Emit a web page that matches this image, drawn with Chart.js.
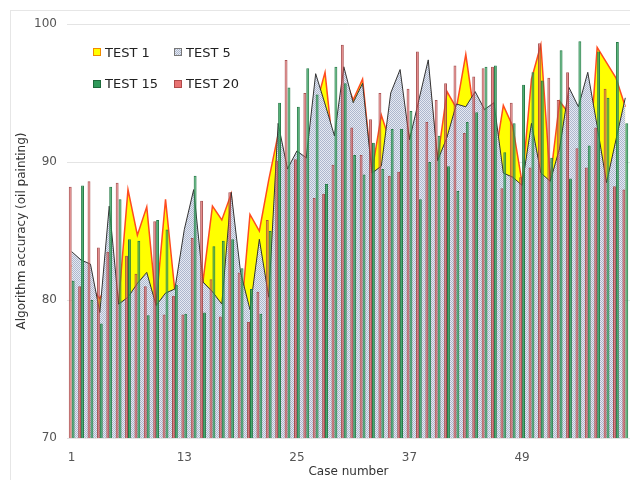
<!DOCTYPE html>
<html><head><meta charset="utf-8">
<script src="https://cdn.jsdelivr.net/npm/chart.js@4"></script>
<style>
html,body{margin:0;padding:0;background:#fff;}
#wrap{position:relative;width:630px;height:480px;overflow:hidden;}
#frame{position:absolute;left:10px;top:10px;width:700px;height:600px;border:1px solid #e6e6e6;}
canvas{position:absolute;left:0;top:0;}
.lg{position:absolute;height:16px;display:flex;align-items:center;font:13px "DejaVu Sans",sans-serif;color:#222;white-space:nowrap;}
.lg i{display:inline-block;width:8px;height:8px;box-sizing:border-box;border:1px solid #888;margin-right:4px;}
</style></head>
<body>
<div id="wrap"><div id="frame"></div><canvas id="c" width="630" height="480"></canvas></div>
<script>
const categories = [1,2,3,4,5,6,7,8,9,10,11,12,13,14,15,16,17,18,19,20,21,22,23,24,25,26,27,28,29,30,
  31,32,33,34,35,36,37,38,39,40,41,42,43,44,45,46,47,48,49,50,51,52,53,54,55,56,57,58,59,60];
const seriesNames = ['TEST 1','TEST 5','TEST 15','TEST 20'];
const xTickLabels = ['1','13','25','37','49'];
const yTicks = [70,80,90,100];

const test1 = [82.5,82.0,81.0,80.1,81.5,79.8,88.0,84.7,86.75,79.7,
  87.3,80.6,83.5,84.0,81.4,86.8,85.8,87.7,78.5,86.2,
  85.0,88.7,92.0,88.5,90.0,89.5,94.0,96.5,90.0,96.3,
  94.5,96.0,89.3,93.4,91.3,95.5,91.7,93.5,96.5,90.2,
  95.1,93.9,97.8,93.0,92.5,89.8,94.1,92.6,88.5,96.0,
  98.5,88.7,94.4,93.5,92.0,88.5,98.3,97.2,96.1,94.0];
const test5 = [83.5,82.9,82.6,79.1,86.8,79.7,80.2,81.2,82.0,79.6,
  80.5,80.8,85.1,88.0,81.3,80.6,79.7,87.8,82.0,79.3,
  84.4,80.2,92.8,89.5,90.8,90.3,96.4,94.2,91.9,96.9,
  94.3,95.7,89.2,89.7,95.0,96.7,91.6,94.5,97.4,90.1,
  91.8,94.2,94.0,95.1,93.8,94.3,89.2,88.9,88.3,92.8,
  89.2,88.6,91.0,95.4,94.0,96.5,92.6,88.5,91.6,94.65];
const test15 = [81.4,88.3,80.0,78.3,88.2,87.3,84.4,84.3,78.9,85.8,
  85.1,81.1,79.0,89.0,79.1,83.9,84.3,84.4,82.3,80.8,
  79.0,85.0,94.3,95.4,94.0,96.8,94.9,88.4,96.9,95.7,
  90.5,89.1,91.4,89.5,92.4,92.4,93.7,87.3,90.0,91.9,
  89.7,87.9,92.9,93.6,96.9,97.0,90.7,92.8,95.6,96.5,
  95.9,90.3,98.1,88.8,98.75,91.2,98.0,94.65,98.7,92.8];
const test20 = [88.2,81.0,88.6,83.8,83.5,88.5,83.2,81.9,81.0,85.7,
  78.95,80.3,78.95,84.5,87.2,81.5,78.8,87.8,82.0,78.4,
  80.6,85.8,90.1,97.4,90.2,95.0,87.4,87.7,89.8,98.5,
  92.5,90.5,93.1,95.0,89.0,89.3,95.3,98.0,92.9,94.5,
  95.7,97.0,92.1,96.2,96.8,96.9,88.1,94.3,88.9,89.6,
  98.6,96.1,94.5,96.5,91.0,89.6,92.5,95.3,88.25,88.0];

function makePatternCanvas(){
  const c=document.createElement('canvas'); c.width=2; c.height=2;
  const g=c.getContext('2d');
  g.fillStyle='#e5e9f2'; g.fillRect(0,0,2,2);
  g.fillStyle='#adb7cd'; g.fillRect(0,0,1,1); g.fillRect(1,1,1,1);
  return c;
}
const patCanvas = makePatternCanvas();
const ctx = document.getElementById('c').getContext('2d');
const bluePattern = ctx.createPattern(patCanvas,'repeat');

const legendStyles = [
  'background:#ffff00;border-color:#f08a00',
  'background:url('+patCanvas.toDataURL()+');border-color:#777',
  'background:#2f9a5a;border-color:#1d6a3b',
  'background:#e87272;border-color:#b04a4a'
];
const wrap = document.getElementById('wrap');
seriesNames.forEach((n,i)=>{
  const d=document.createElement('div'); d.className='lg';
  d.style.left=(93+(i%2)*81)+'px'; d.style.top=(44+Math.floor(i/2)*31.5)+'px';
  d.innerHTML='<i style="'+legendStyles[i]+'"></i><span></span>';
  d.querySelector('span').textContent=n;
  wrap.appendChild(d);
});

const font = {family:'"DejaVu Sans", sans-serif', size:12};
new Chart(ctx, {
  type:'bar',
  data:{
    labels: categories,
    datasets:[
      {type:'line', label:seriesNames[0], data:test1, borderColor:'#ff4b1f', borderWidth:1.5,
       backgroundColor:'#ffff00', fill:'start', pointRadius:0, tension:0, order:3},
      {type:'line', label:seriesNames[1], data:test5, borderColor:'#333333', borderWidth:1,
       backgroundColor:bluePattern, fill:'start', pointRadius:0, tension:0, order:2},
      {label:seriesNames[2], data:test15, backgroundColor:'rgba(45,160,88,0.9)', borderColor:'#257a47',
       borderWidth:1, categoryPercentage:0.62, barPercentage:1, order:1},
      {label:seriesNames[3], data:test20, backgroundColor:'rgba(220,85,85,0.72)', borderColor:'rgba(160,65,65,0.9)',
       borderWidth:1, categoryPercentage:0.62, barPercentage:1, order:0}
    ]
  },
  options:{
    responsive:false, animation:false, devicePixelRatio:1,
    layout:{padding:{left:11, top:24, right:0, bottom:0}},
    plugins:{legend:{display:false}, tooltip:{enabled:false}},
    scales:{
      x:{
        grid:{display:false}, border:{display:false},
        ticks:{autoSkip:false, maxRotation:0, padding:5, color:'#555', font:font,
          callback:function(v,i){ const l=String(categories[i]); return xTickLabels.includes(l)? l : null; }},
        title:{display:true, text:'Case number', color:'#333', font:font, padding:{top:0,bottom:1}},
        afterFit:function(s){ s.height=42; }
      },
      y:{
        min:70, max:100,
        afterBuildTicks:function(s){ s.ticks = yTicks.map(v=>({value:v})); },
        ticks:{padding:10, color:'#555', font:font},
        grid:{color:'#e4e4e4', drawTicks:false},
        border:{display:false},
        title:{display:true, text:'Algorithm accuracy (oil painting)', color:'#333', font:font, padding:{top:4,bottom:4}},
        afterFit:function(s){ s.width=56; }
      }
    }
  }
});
</script>
</body></html>
